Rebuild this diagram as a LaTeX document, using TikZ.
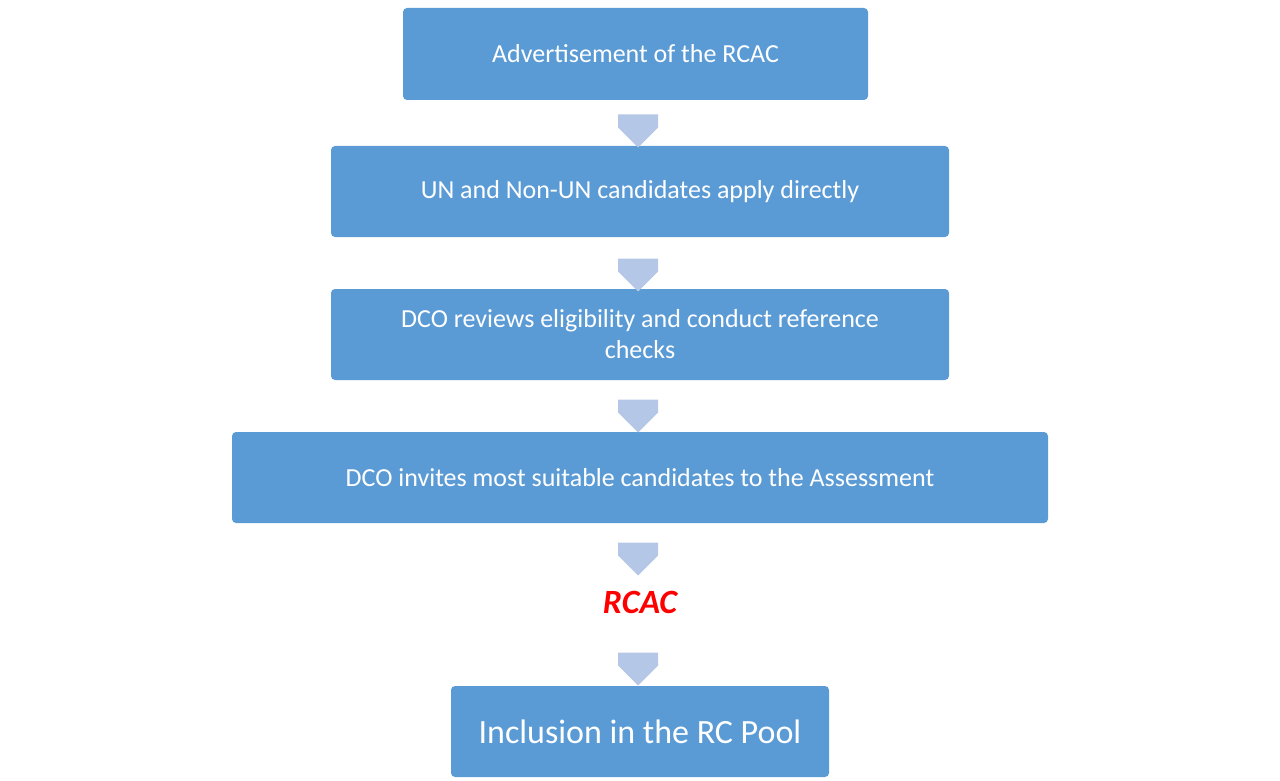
\documentclass[tikz,border=0pt]{standalone}
\usepackage{fontspec}
\setmainfont{Carlito}
\usetikzlibrary{shapes.arrows}
\definecolor{boxblue}{HTML}{5B9BD5}
\definecolor{arrblue}{HTML}{B4C7E7}
\begin{document}
\begin{tikzpicture}[x=1pt,y=-1pt,
  stepbox/.style={fill=boxblue,rounded corners=4pt,text=white,align=center,font=\fontsize{26}{31}\selectfont},
  darr/.style={fill=arrblue,single arrow,shape border rotate=270,minimum width=40pt,single arrow head extend=0pt,single arrow tip angle=90,inner sep=0pt,minimum height=33pt,text width=22pt}]
\useasboundingbox (0,0) rectangle (1280,781);
\fill[boxblue,rounded corners=4pt] (403,8) rectangle (868,100);
\node[stepbox] (b1) at (635.5,54) {Advertisement of the RCAC};
\fill[boxblue,rounded corners=4pt] (331,146) rectangle (949,237);
\node[stepbox] (b2) at (640,191.5) {UN and Non-UN candidates apply directly};
\fill[boxblue,rounded corners=4pt] (331,289) rectangle (949,380);
\node[stepbox] (b3) at (640,334.5) {DCO reviews eligibility and conduct reference\\checks};
\fill[boxblue,rounded corners=4pt] (232,432) rectangle (1048,523);
\node[stepbox] (b4) at (640,477.5) {DCO invites most suitable candidates to the Assessment};
\node[text=red,font=\fontsize{34}{40}\selectfont\bfseries\itshape] (rc) at (640,602) {RCAC};
\fill[boxblue,rounded corners=4pt] (451,686) rectangle (829,777);
\node[stepbox,font=\fontsize{34}{40}\selectfont] (b5) at (640,731.5) {Inclusion in the RC Pool};
\foreach \y/\n in {121/a1,265/a2,406/a3,549/a4,659/a5}
  \node[darr] (\n) at (638,\y) {};
\end{tikzpicture}
\end{document}
